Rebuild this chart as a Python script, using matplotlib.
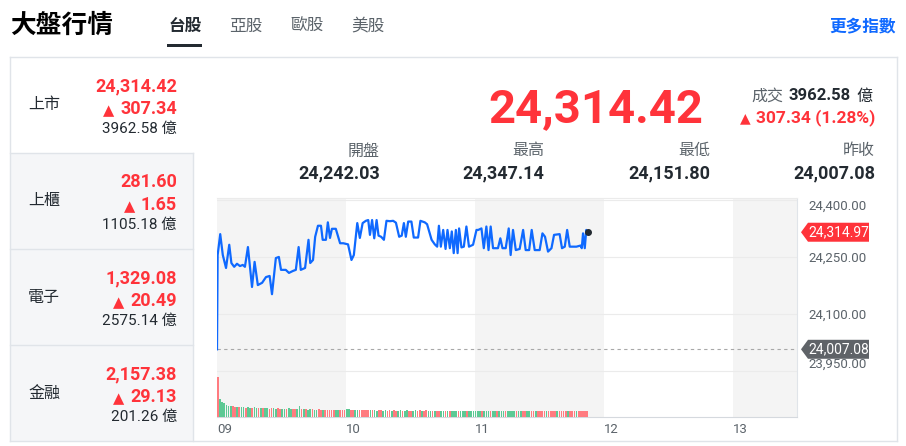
import matplotlib.pyplot as plt
from matplotlib.patches import Rectangle, Polygon

plt.rcParams['font.family'] = ['Roboto', 'Noto Sans CJK TC', 'DejaVu Sans']

tabs = ['台股', '亞股', '歐股', '美股']
markets = ['上市', '上櫃', '電子', '金融']
market_close = ['24,314.42', '281.60', '1,329.08', '2,157.38']
market_change = ['307.34', '1.65', '20.49', '29.13']
market_turnover = ['3962.58', '1105.18', '2575.14', '201.26']

index_close = 24314.42
index_change = 307.34
index_pct = 1.28
turnover = 3962.58
stat_names = ['開盤', '最高', '最低', '昨收']
stat_values = [24242.03, 24347.14, 24151.80, 24007.08]
prev_close = 24007.08
last_price = 24314.97

hour_labels = ['09', '10', '11', '12', '13']
price_ticks = [23950, 24100, 24250, 24400]

# minutes after 09:00 and index level
minutes = [0, 0.3, 1.5, 2.7, 4.2, 5.7, 6.7, 8.0, 9.3, 10.7,
           12.0, 13.0, 14.4, 16.3, 17.5, 19.0, 21.0, 22.8, 24.5, 25.6,
           27.4, 28.8, 29.8, 32.0, 33.5, 35.3, 36.7, 38.0, 39.0, 41.0,
           42.6, 43.4, 44.7, 45.7, 47.0, 48.4, 49.2, 50.7, 51.6, 52.6,
           53.5, 55.3, 57.3, 58.8, 61.0, 62.6, 63.7, 65.3, 66.5, 67.8,
           69.3, 70.4, 71.2, 72.2, 73.2, 74.3, 75.2, 76.4, 77.7, 78.9,
           80.5, 82.0, 83.3, 84.8, 86.0, 87.0, 87.9, 89.0, 90.5, 91.6,
           93.6, 94.7, 96.7, 97.8, 99.9, 101.4, 102.5, 103.3, 104.2, 105.3,
           106.4, 107.3, 108.4, 109.3, 110.2, 111.2, 112.0, 112.7, 113.8, 114.9,
           116.1, 117.3, 119.2, 120.8, 121.6, 123.1, 124.2, 125.4, 126.4, 127.4,
           128.5, 130.8, 131.9, 132.9, 134.4, 135.8, 136.7, 137.8, 139.1, 140.9,
           142.5, 143.7, 145.3, 146.5, 147.9, 150.2, 151.5, 152.7, 154.1, 155.7,
           156.9, 159.5, 160.6, 161.9, 163.0, 164.2, 167.3, 169.3, 169.8, 170.4,
           171.2, 171.9, 172.7]
prices = [24007, 24255, 24310, 24255, 24221, 24282, 24234, 24224, 24232, 24226,
          24229, 24224, 24276, 24171, 24237, 24176, 24182, 24197, 24200, 24152,
          24247, 24250, 24216, 24216, 24208, 24213, 24216, 24276, 24216, 24221,
          24295, 24234, 24242, 24303, 24332, 24332, 24295, 24295, 24341, 24300,
          24324, 24324, 24286, 24286, 24283, 24242, 24255, 24339, 24300, 24339,
          24345, 24347, 24308, 24347, 24299, 24347, 24306, 24303, 24295, 24345,
          24344, 24345, 24340, 24303, 24306, 24339, 24303, 24343, 24343, 24301,
          24301, 24345, 24341, 24336, 24295, 24283, 24277, 24332, 24277, 24321,
          24271, 24321, 24273, 24317, 24260, 24321, 24260, 24325, 24275, 24277,
          24330, 24277, 24282, 24321, 24321, 24325, 24273, 24330, 24268, 24330,
          24273, 24273, 24299, 24273, 24273, 24325, 24255, 24321, 24268, 24271,
          24321, 24268, 24268, 24321, 24268, 24268, 24312, 24303, 24264, 24273,
          24308, 24310, 24273, 24277, 24321, 24277, 24277, 24280, 24273, 24312,
          24273, 24321, 24314.97]

# per-minute volume (億) and direction (u = up/red, d = down/green)
volume = [130, 58, 50, 44, 40, 37, 36, 35, 34, 33,
          32, 31, 33, 30, 32, 30, 29, 31, 30, 29,
          28, 30, 28, 29, 27, 30, 28, 27, 29, 26,
          27, 25, 26, 28, 25, 26, 27, 25, 36, 27,
          25, 26, 24, 25, 27, 24, 23, 25, 24, 23,
          24, 23, 22, 24, 23, 22, 23, 22, 23, 22,
          25, 26, 24, 23, 24, 23, 22, 24, 23, 22,
          23, 22, 23, 22, 21, 23, 22, 21, 22, 21,
          22, 21, 22, 21, 21, 22, 21, 21, 22, 21,
          21, 21, 22, 21, 22, 21, 21, 22, 21, 20,
          21, 20, 21, 20, 21, 20, 21, 20, 20, 21,
          20, 20, 21, 20, 21, 20, 20, 20, 21, 20,
          21, 20, 21, 20, 20, 20, 19, 21, 20, 19,
          20, 19, 20, 19, 20, 19, 20, 19, 20, 19,
          20, 19, 20, 19, 20, 19, 19, 20, 19, 19,
          19, 19, 20, 19, 19, 20, 19, 19, 20, 19,
          19, 20, 19, 19, 20, 19, 19, 20, 19, 19,
          19, 18, 18]
vol_dir = ("udddddduud uddudduddu dudduudduu ddudduuddu duddudduud "
           "uuuuudduuu dduudduuuu ududduuddu uduudduddu udduuduudd "
           "uduuddudud dduddduddd dddudddudd uddduddddu dduudduudu "
           "uuuduuuudu uuuduuuduu uuu").replace(' ', '')

W, H = 906, 446
RED = '#ff333a'
DARK = '#232a31'
GREY = '#5b636a'
LINE = '#e0e4e9'
BLUE = '#0f69ff'

fig = plt.figure(figsize=(W / 100, H / 100), dpi=100)

# ---- price chart ----
ax = fig.add_axes([217 / W, 1 - 417 / H, 580 / W, 219 / H])
ax.set_xlim(0, 270)
ax.set_ylim(23829, 24405)
for i in range(0, 270, 120):
    ax.axvspan(i, i + 60, color='#f4f4f4', lw=0, zorder=0)
for v in price_ticks:
    ax.axhline(v, color='#ebebeb', lw=0.8, zorder=1)
ax.axhline(prev_close, color='#a8a8a8', lw=0.8, ls=(0, (3, 3)), zorder=2)
ax.plot(minutes, prices, color=BLUE, lw=1.6, zorder=3)
ax.plot(minutes[-1], prices[-1], 'o', color=DARK, ms=4, zorder=4)

ax.spines['left'].set_visible(False)
ax.spines['top'].set_color('#ebebeb')
ax.spines['right'].set_color(LINE)
ax.spines['bottom'].set_color('#d5d9de')

ax.yaxis.tick_right()
ax.set_yticks(price_ticks, [f'{v:,.2f}' for v in price_ticks])
ax.tick_params(axis='y', length=0, pad=8, labelsize=9.5, labelcolor=GREY)
ax.set_xticks([60 * i for i in range(len(hour_labels))], hour_labels)
ax.tick_params(axis='x', length=0, pad=4, labelsize=9.5, labelcolor=GREY)
for lab in ax.get_xticklabels():
    lab.set_ha('left')
ylabs = ax.get_yticklabels()
ylabs[-1].set_va('top')
ylabs[0].set_va('bottom')

# volume bars
axv = fig.add_axes([217 / W, 1 - 417 / H, 580 / W, 44 / H])
axv.set_xlim(0, 270)
axv.set_ylim(0, 143)
axv.axis('off')
colors = ['#ff7b80' if c == 'u' else '#5cc994' for c in vol_dir[:len(volume)]]
axv.bar(range(len(volume)), volume, width=0.75, align='edge', color=colors, lw=0)

# ---- overlay in pixel coordinates ----
ov = fig.add_axes([0, 0, 1, 1])
ov.set_xlim(0, W)
ov.set_ylim(H, 0)
ov.axis('off')


def txt(x, y, s, size, color=DARK, weight='normal', ha='left', va='center', **kw):
    return ov.text(x, y, s, fontsize=size, color=color, fontweight=weight,
                   ha=ha, va=va, **kw)


def tri(artist, size, gap=6):
    ov.annotate('▲', xy=(0, 0.42), xycoords=artist, xytext=(-gap, 0),
                textcoords='offset pixels', ha='right', va='center',
                fontsize=size, color=RED, family='DejaVu Sans')


# header
txt(10, 26, '大盤行情', 18.5, '#000000', 'bold')
tab_x = [168, 229, 290, 351]
for i, (t, x) in enumerate(zip(tabs, tab_x)):
    txt(x, 26, t, 12, DARK if i == 0 else GREY, 'bold' if i == 0 else 'normal')
ov.add_patch(Rectangle((167, 44), 35, 3, facecolor=DARK, edgecolor='none'))
txt(896, 26, '更多指數', 12, BLUE, 'bold', ha='right')

# left panel
for i, name in enumerate(markets):
    top = 57 + 96 * i
    ov.add_patch(Rectangle((10, top), 183, 96, edgecolor='none',
                           facecolor='white' if i == 0 else '#f5f6f8'))
    if i > 0:
        ov.plot([10, 193], [top, top], color=LINE, lw=1)
    txt(28, top + 48, name, 11.5, DARK)
    txt(177, top + 34, market_close[i], 13, RED, 'bold', ha='right', va='baseline')
    chg = txt(177, top + 57, market_change[i], 13, RED, 'bold', ha='right', va='baseline')
    tri(chg, 10.5)
    txt(177, top + 76, f'{market_turnover[i]} 億', 11, DARK, ha='right', va='baseline')

ov.plot([10, 897], [57, 57], color=LINE, lw=1)
ov.plot([10, 10], [57, 441], color=LINE, lw=1)
ov.plot([897, 897], [57, 441], color=LINE, lw=1)
ov.plot([193, 193], [153, 441], color=LINE, lw=1)
ov.plot([10, 897], [441, 441], color=LINE, lw=1)

# big quote
txt(703, 122, f'{index_close:,.2f}', 34, RED, 'bold', ha='right', va='baseline')
txt(872, 100.5, '億', 11.5, DARK, ha='right', va='baseline')
txt(851, 100.5, f'{turnover:.2f}', 12, DARK, 'bold', ha='right', va='baseline')
txt(783, 100.5, '成交', 11.5, GREY, ha='right', va='baseline')
chg = txt(875, 122, f'{index_change:.2f} ({index_pct:.2f}%)', 12.5, RED, 'bold',
          ha='right', va='baseline')
tri(chg, 10, gap=5)

stat_x = [380, 544, 710, 875]
for name, val, x in zip(stat_names, stat_values, stat_x):
    txt(x, 151, name, 11.5, GREY, ha='right')
    txt(x, 178, f'{val:,.2f}', 13, DARK, 'bold', ha='right', va='baseline')


# price tags on the right axis
def tag(v, color):
    yp = H - ax.transData.transform((0, v))[1]
    ov.add_patch(Polygon([(801, yp), (808, yp - 9.5), (869, yp - 9.5),
                          (869, yp + 9.5), (808, yp + 9.5)],
                         closed=True, facecolor=color, edgecolor='none'))
    txt(838.5, yp, f'{v:,.2f}', 10, 'white', ha='center')


tag(last_price, RED)
tag(prev_close, '#5f6368')

fig.savefig('out.png', dpi=100)
